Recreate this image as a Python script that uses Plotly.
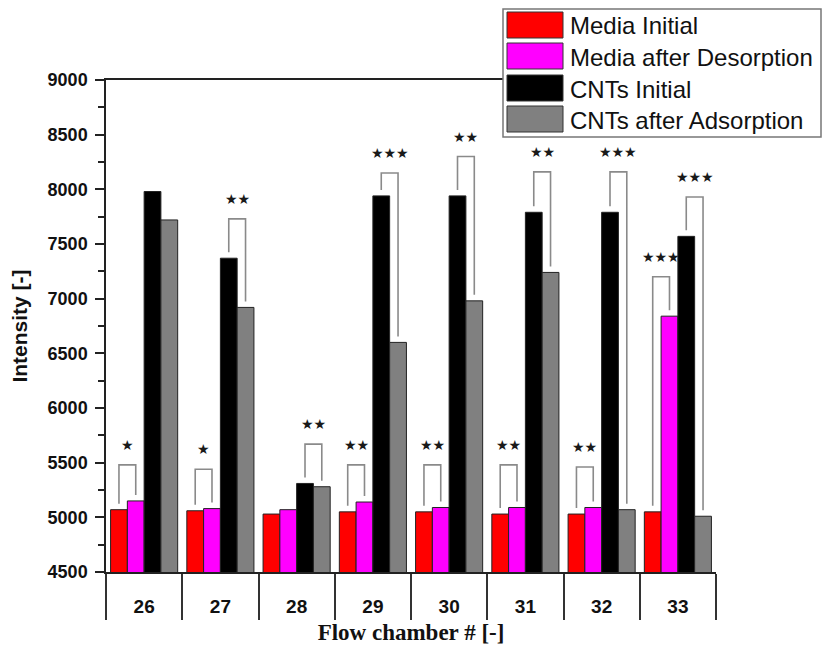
import plotly.graph_objects as go

chambers = ["26", "27", "28", "29", "30", "31", "32", "33"]
media_initial = [5070, 5060, 5030, 5050, 5050, 5030, 5030, 5050]
media_desorption = [5150, 5080, 5070, 5140, 5090, 5090, 5090, 6840]
cnts_initial = [7980, 7370, 5310, 7940, 7940, 7790, 7790, 7570]
cnts_adsorption = [7720, 6920, 5280, 6600, 6980, 7240, 5070, 5010]

series_names = ["Media Initial", "Media after Desorption", "CNTs Initial", "CNTs after Adsorption"]
series_colors = ["#ff0000", "#ff00ff", "#000000", "#808080"]

# significance brackets: (chamber index, first bar, second bar, bracket top, label)
sig_chamber = [0, 1, 1, 2, 3, 3, 4, 4, 5, 5, 6, 6, 7, 7]
sig_bar_a = [0, 0, 2, 2, 0, 2, 0, 2, 0, 2, 0, 2, 0, 2]
sig_bar_b = [1, 1, 3, 3, 1, 3, 1, 3, 1, 3, 1, 3, 1, 3]
sig_top = [5480, 5440, 7730, 5670, 5480, 8150, 5480, 8300, 5480, 8160, 5460, 8160, 7200, 7930]
sig_label = ["★", "★", "★★", "★★", "★★", "★★★", "★★", "★★", "★★", "★★", "★★", "★★★", "★★★", "★★★"]

all_series = [media_initial, media_desorption, cnts_initial, cnts_adsorption]
bargap = 0.12
group_w = 1 - bargap
bar_w = group_w / 4

# figure is placed 8px in from the page corner (body margin)
OFF = 8
FIG_W, FIG_H = 831 - OFF, 655 - 2 * OFF
PL, PR, PT, PB = 106, 716, 80, 572  # plot area in window pixels

fig = go.Figure()
for name, vals, col in zip(series_names, all_series, series_colors):
    fig.add_trace(go.Bar(x=chambers, y=vals, name=name,
                         marker=dict(color=col, line=dict(color="#222222", width=1)),
                         showlegend=False))

def bar_center(ci, bi):
    return ci - group_w / 2 + (bi + 0.5) * bar_w

leg_gap = 55
for ci, ba, bb, top, lab in zip(sig_chamber, sig_bar_a, sig_bar_b, sig_top, sig_label):
    xa = bar_center(ci, ba)
    xb = bar_center(ci, bb)
    ya = all_series[ba][ci] + leg_gap
    yb = all_series[bb][ci] + leg_gap
    fig.add_trace(go.Scatter(x=[xa, xa, xb, xb], y=[ya, top, top, yb], mode="lines",
                             line=dict(color="#8a8a8a", width=1.6), xaxis="x2", yaxis="y",
                             showlegend=False, hoverinfo="skip"))
    fig.add_annotation(x=(xa + xb) / 2, y=top, xref="x2", yref="y", text=lab, showarrow=False,
                       yanchor="middle", yshift=20,
                       font=dict(family="DejaVu Sans", size=14, color="#1a1a1a"))

fig.update_layout(
    width=FIG_W, height=FIG_H,
    margin=dict(l=PL - OFF, r=FIG_W - (PR - OFF), t=PT - OFF, b=FIG_H - (PB - OFF)),
    paper_bgcolor="white", plot_bgcolor="white",
    barmode="group", bargap=bargap, bargroupgap=0,
    showlegend=False,
    xaxis=dict(type="category", tickson="boundaries", ticks="outside", ticklen=46, tickwidth=2,
               tickcolor="#333333", showline=True, linecolor="#222222", linewidth=1.5, mirror=True,
               showgrid=False, automargin=False,
               tickfont=dict(family="Arial, Liberation Sans", size=19, color="#111111", weight="bold"),
               ticklabelstandoff=16, range=[-0.5, 7.5],
               title=dict(text="Flow chamber # [-]", standoff=8,
                          font=dict(family="Times New Roman, Liberation Serif", size=23, color="#111111",
                                    weight="bold"))),
    xaxis2=dict(overlaying="x", range=[-0.5, 7.5], visible=False, anchor="y"),
    yaxis=dict(range=[4500, 9000], dtick=500, ticks="outside", ticklen=9, tickwidth=1.5, tickcolor="#222222",
               showline=True, linecolor="#222222", linewidth=1.5, showgrid=False, zeroline=False,
               automargin=False,
               minor=dict(dtick=250, ticks="outside", ticklen=6, tickcolor="#222222", showgrid=False),
               tickfont=dict(family="Arial, Liberation Sans", size=18, color="#111111", weight="bold"),
               ticklabelstandoff=4,
               title=dict(text="Intensity [-]", standoff=14,
                          font=dict(family="Arial, Liberation Sans", size=21, color="#111111", weight="bold"))),
    yaxis2=dict(overlaying="y", side="right", anchor="x", range=[4500, 9000], dtick=500, ticks="inside",
                ticklen=7, tickwidth=1.5, tickcolor="#222222", showline=True, linecolor="#222222", linewidth=1.5,
                showticklabels=False, showgrid=False, zeroline=False, automargin=False,
                minor=dict(dtick=250, ticks="inside", ticklen=4, tickcolor="#222222", showgrid=False)),
)

def px(x):
    return (x - PL) / (PR - PL)

def py(y):
    return (PB - y) / (PB - PT)

# legend box drawn manually (paper coordinates)
fig.add_shape(type="rect", xref="paper", yref="paper", x0=px(503), x1=px(821), y0=py(137), y1=py(9),
              fillcolor="white", line=dict(color="#777777", width=1.5), layer="above")
row_tops = [12, 43, 75, 106]
for rt, name, col in zip(row_tops, series_names, series_colors):
    fig.add_shape(type="rect", xref="paper", yref="paper", x0=px(507), x1=px(563), y0=py(rt + 26), y1=py(rt),
                  fillcolor=col, line=dict(color="#333333", width=1), layer="above")
    fig.add_annotation(xref="paper", yref="paper", x=px(568), y=py(rt + 14), text=name, showarrow=False,
                       xanchor="left", yanchor="middle",
                       font=dict(family="Arial, Liberation Sans", size=24, color="#111111"))

fig.write_html("out.html")
